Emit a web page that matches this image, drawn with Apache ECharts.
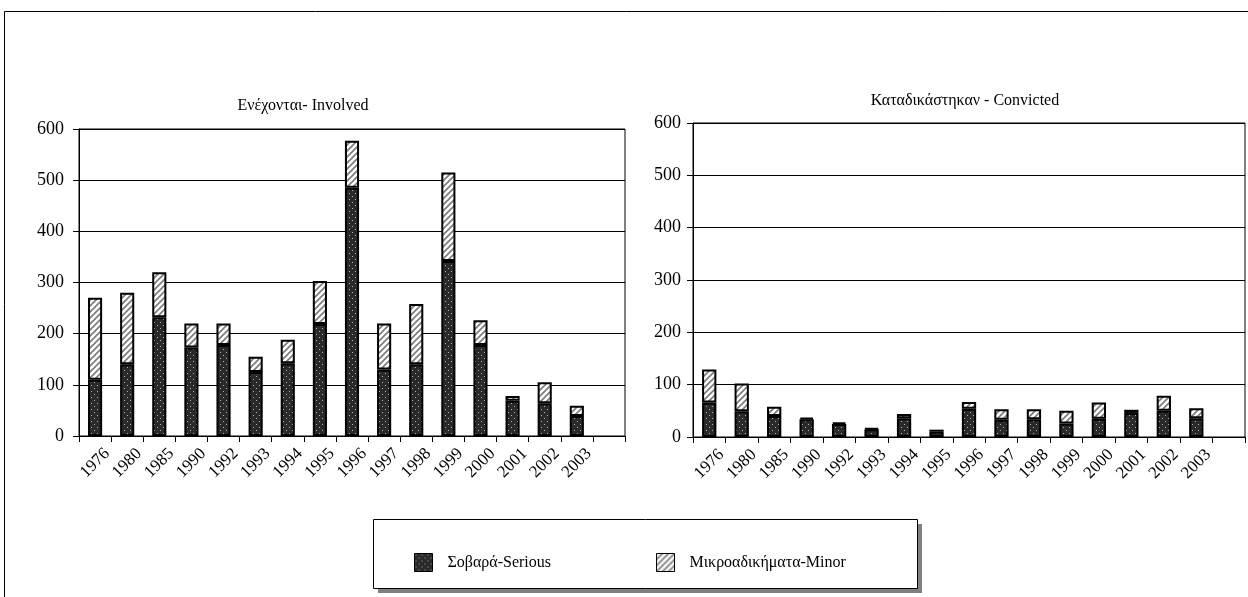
<!DOCTYPE html>
<html>
<head>
<meta charset="utf-8">
<script src="https://cdn.jsdelivr.net/npm/echarts@6/dist/echarts.min.js"></script>
<style>
html,body{margin:0;padding:0;background:#fff;}
#chart{width:1248px;height:597px;}
</style>
</head>
<body>
<div id="chart"></div>
<script>
// ---- data ----
const years = ['1976','1980','1985','1990','1992','1993','1994','1995','1996','1997','1998','1999','2000','2001','2002','2003'];
const involvedSerious = [110,140,232,173,178,125,142,219,485,130,140,342,178,69,64,39];
const involvedMinor   = [160,140,88,47,42,30,46,84,92,90,118,173,48,9,41,20];
const convictedSerious = [66,49,40,34,25,15,36,10,54,33,34,26,35,46,50,36];
const convictedMinor   = [63,53,18,3,3,2,8,4,13,20,19,24,31,6,29,19];
const yTicks = [0,100,200,300,400,500,600];
const titleInvolved = 'Ενέχονται- Involved';
const titleConvicted = 'Καταδικάστηκαν - Convicted';
const nameSerious = 'Σοβαρά-Serious';
const nameMinor = 'Μικροαδικήματα-Minor';

// axis categories: the years plus one empty slot at the end
const cats = years.concat(['']);

// ---- patterns ----
function dotPattern(){
  const c = document.createElement('canvas'); c.width = 6; c.height = 6;
  const g = c.getContext('2d');
  g.fillStyle = '#2a2a2a'; g.fillRect(0,0,6,6);
  g.fillStyle = '#b0b0b0';
  g.fillRect(1,1,1,1); g.fillRect(4,4,1,1);
  return c;
}
function hatchPattern(){
  const c = document.createElement('canvas'); c.width = 6; c.height = 6;
  const g = c.getContext('2d');
  g.fillStyle = '#ffffff'; g.fillRect(0,0,6,6);
  g.strokeStyle = '#7a7a7a'; g.lineWidth = 1.6;
  g.beginPath();
  g.moveTo(-1,7); g.lineTo(7,-1);
  g.moveTo(-4,4); g.lineTo(4,-4);
  g.moveTo(2,10); g.lineTo(10,2);
  g.stroke();
  return c;
}
const seriousFill = {image: dotPattern(), repeat: 'repeat'};
const minorFill = {image: hatchPattern(), repeat: 'repeat'};

const FONT = 'Liberation Serif';
const chart = echarts.init(document.getElementById('chart'), null, {renderer: 'canvas'});

function xAxis(idx){
  return {
    type: 'category', gridIndex: idx, data: cats,
    axisLine: {lineStyle: {color: '#000', width: 1}},
    axisTick: {show: true, length: 6, lineStyle: {color: '#000'}},
    axisLabel: {rotate: 45, align: 'center', verticalAlign: 'middle', color: '#000',
      fontFamily: FONT, fontSize: 17, margin: 27, interval: 0}
  };
}
function yAxis(idx, margin){
  return {
    type: 'value', gridIndex: idx, min: 0, max: 600, interval: 100,
    axisLine: {show: true, lineStyle: {color: '#000', width: 1}},
    axisTick: {show: true, length: 6, lineStyle: {color: '#000'}},
    axisLabel: {color: '#000', fontFamily: FONT, fontSize: 18, margin: margin,
      formatter: v => (yTicks.indexOf(v) >= 0 ? String(v) : '')},
    splitLine: {show: true, lineStyle: {color: '#000', width: 1}}
  };
}
const barStyle = (fill) => ({color: fill, borderColor: '#000', borderWidth: 2});

const option = {
  backgroundColor: '#fff',
  animation: false,
  title: [
    {text: titleInvolved, left: 298, top: 93, textAlign: 'center',
     textStyle: {fontFamily: FONT, fontSize: 16, fontWeight: 'normal', color: '#000'}},
    {text: titleConvicted, left: 960, top: 88, textAlign: 'center',
     textStyle: {fontFamily: FONT, fontSize: 16, fontWeight: 'normal', color: '#000'}}
  ],
  graphic: [
    {type: 'rect', shape: {x: 4.5, y: 11.5, width: 1300, height: 700}, style: {fill: 'none', stroke: '#000', lineWidth: 1}, silent: true, z: -10},
    {type: 'rect', shape: {x: 378, y: 524, width: 544, height: 69}, style: {fill: '#808080'}, silent: true, z: -5},
    {type: 'rect', shape: {x: 373.5, y: 519.5, width: 544, height: 69}, style: {fill: '#fff', stroke: '#000', lineWidth: 1}, silent: true, z: -4}
  ],
  legend: {
    left: 409, top: 548, itemWidth: 18, itemHeight: 18, itemGap: 105,
    icon: 'rect',
    data: [nameSerious, nameMinor],
    textStyle: {fontFamily: FONT, fontSize: 16, color: '#000', padding: [0,0,0,10]},
    itemStyle: {borderColor: '#000', borderWidth: 1}
  },
  grid: [
    {left: 79, top: 129, width: 546, height: 307, show: true, borderColor: '#000', borderWidth: 1},
    {left: 693, top: 123, width: 552, height: 314, show: true, borderColor: '#000', borderWidth: 1}
  ],
  xAxis: [xAxis(0), xAxis(1)],
  yAxis: [yAxis(0, 15), yAxis(1, 12)],
  series: [
    {name: nameSerious, type: 'bar', stack: 'a', xAxisIndex: 0, yAxisIndex: 0, barWidth: '44%', data: involvedSerious, itemStyle: barStyle(seriousFill)},
    {name: nameMinor, type: 'bar', stack: 'a', xAxisIndex: 0, yAxisIndex: 0, barWidth: '44%', data: involvedMinor, itemStyle: barStyle(minorFill)},
    {name: nameSerious, type: 'bar', stack: 'b', xAxisIndex: 1, yAxisIndex: 1, barWidth: '44%', data: convictedSerious, itemStyle: barStyle(seriousFill)},
    {name: nameMinor, type: 'bar', stack: 'b', xAxisIndex: 1, yAxisIndex: 1, barWidth: '44%', data: convictedMinor, itemStyle: barStyle(minorFill)}
  ]
};
chart.setOption(option);
</script>
</body>
</html>
